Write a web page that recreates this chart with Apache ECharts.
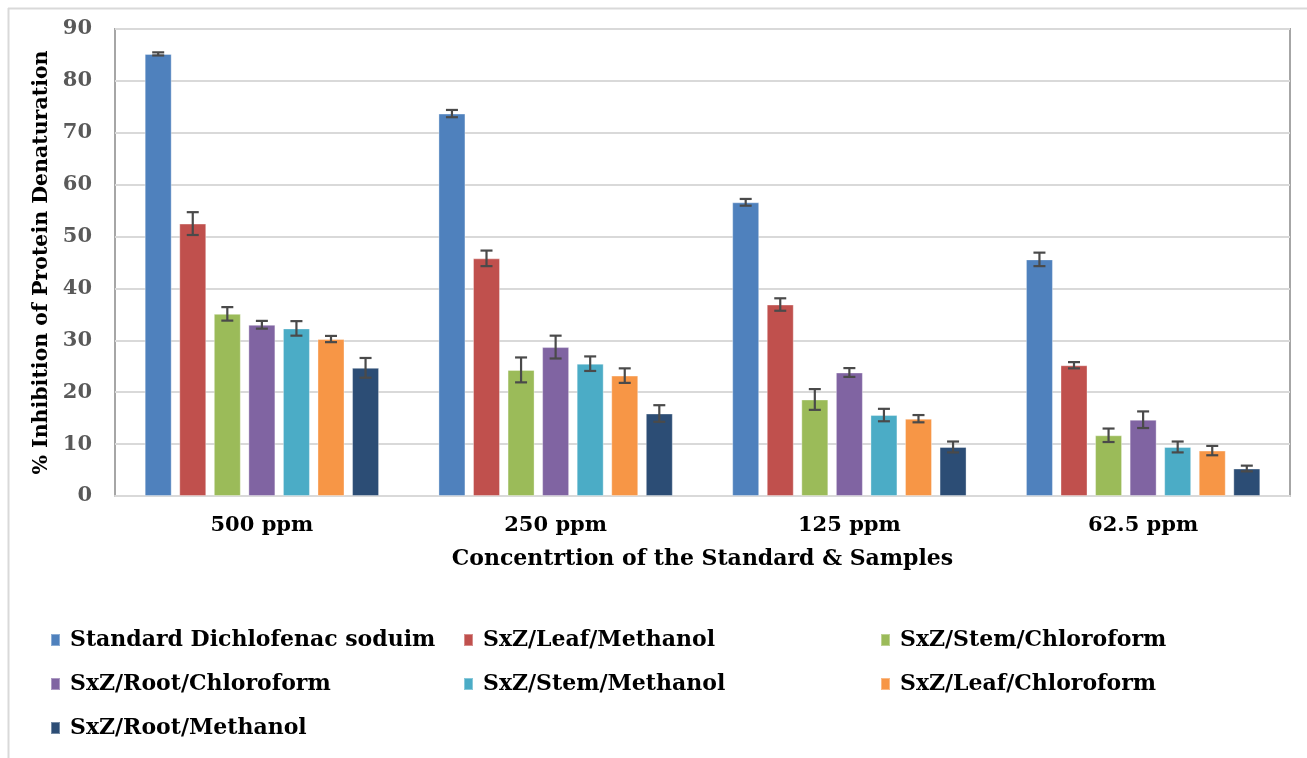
<!DOCTYPE html>
<html>
<head>
<meta charset="utf-8">
<script src="https://cdn.jsdelivr.net/npm/echarts@6/dist/echarts.min.js"></script>
<style>html,body{margin:0;padding:0;background:#fff;}#c{width:1307px;height:758px;}</style>
</head>
<body>
<div id="c"></div>
<script>
const categories = ['500 ppm', '250 ppm', '125 ppm', '62.5 ppm'];
const seriesNames = ['Standard Dichlofenac soduim', 'SxZ/Leaf/Methanol', 'SxZ/Stem/Chloroform', 'SxZ/Root/Chloroform', 'SxZ/Stem/Methanol', 'SxZ/Leaf/Chloroform', 'SxZ/Root/Methanol'];
const colors = ['#4F81BD', '#C0504D', '#9BBB59', '#8064A2', '#4BACC6', '#F79646', '#2C4D75'];
const standardDichlofenac = [85.2, 73.7, 56.6, 45.6];
const leafMethanol = [52.5, 45.8, 36.9, 25.2];
const stemChloroform = [35.1, 24.3, 18.6, 11.7];
const rootChloroform = [33.0, 28.7, 23.8, 14.7];
const stemMethanol = [32.3, 25.5, 15.6, 9.45];
const leafChloroform = [30.25, 23.2, 14.9, 8.75];
const rootMethanol = [24.7, 15.9, 9.45, 5.3];
const errStandard = [0.3, 0.7, 0.65, 1.3];
const errLeafMethanol = [2.2, 1.5, 1.2, 0.6];
const errStemChloroform = [1.3, 2.4, 2.0, 1.3];
const errRootChloroform = [0.75, 2.2, 0.85, 1.6];
const errStemMethanol = [1.4, 1.4, 1.2, 1.05];
const errLeafChloroform = [0.6, 1.4, 0.7, 0.9];
const errRootMethanol = [1.9, 1.6, 1.05, 0.55];
const yTicks = [0, 10, 20, 30, 40, 50, 60, 70, 80, 90];

const values = [standardDichlofenac, leafMethanol, stemChloroform, rootChloroform, stemMethanol, leafChloroform, rootMethanol];
const errors = [errStandard, errLeafMethanol, errStemChloroform, errRootChloroform, errStemMethanol, errLeafChloroform, errRootMethanol];

const BAR_W = 27;
const GAP_RATIO = 0.28;
const FONT = '"DejaVu Serif", "Liberation Serif", serif';

const chart = echarts.init(document.getElementById('c'), null, {renderer: 'canvas'});

const series = [];
values.forEach((vals, i) => {
  series.push({
    name: seriesNames[i],
    type: 'bar',
    data: vals,
    barWidth: BAR_W,
    barGap: (GAP_RATIO * 100) + '%',
    itemStyle: {color: colors[i], borderColor: 'rgba(255,255,255,0.35)', borderWidth: 1},
    z: 2
  });
});
values.forEach((vals, i) => {
  const n = values.length;
  const offset = (i - (n - 1) / 2) * BAR_W * (1 + GAP_RATIO);
  series.push({
    name: seriesNames[i],
    type: 'custom',
    z: 5,
    silent: true,
    data: vals.map((v, k) => [k, v, errors[i][k]]),
    renderItem: function (params, api) {
      const xi = api.value(0);
      const v = api.value(1);
      const e = api.value(2);
      const hi = api.coord([xi, v + e]);
      const lo = api.coord([xi, v - e]);
      const x = hi[0] + offset;
      const cap = 6;
      const style = {stroke: '#4a4a4a', lineWidth: 2.2};
      return {
        type: 'group',
        children: [
          {type: 'line', shape: {x1: x, y1: hi[1], x2: x, y2: lo[1]}, style: style},
          {type: 'line', shape: {x1: x - cap, y1: hi[1], x2: x + cap, y2: hi[1]}, style: style},
          {type: 'line', shape: {x1: x - cap, y1: lo[1], x2: x + cap, y2: lo[1]}, style: style}
        ]
      };
    },
    encode: {x: 0, y: 1}
  });
});

const legendItem = {fontFamily: FONT, fontWeight: 'bold', fontSize: 22, color: '#000', padding: [0, 0, 0, 5]};
function mkLegend(left, names) {
  return {
    orient: 'vertical', left: left, top: 624, itemGap: 22,
    itemWidth: 9, itemHeight: 12, icon: 'rect',
    textStyle: legendItem,
    data: names
  };
}

chart.setOption({
  animation: false,
  backgroundColor: '#fff',
  color: colors,
  graphic: [
    {type: 'line', shape: {x1: 8, y1: 8.5, x2: 1307, y2: 8.5}, style: {stroke: '#D9D9D9', lineWidth: 2}},
    {type: 'line', shape: {x1: 8.5, y1: 8, x2: 8.5, y2: 758}, style: {stroke: '#D9D9D9', lineWidth: 2}}
  ],
  grid: {left: 115, right: 17, top: 29, bottom: 262, show: true, borderColor: '#A6A6A6', borderWidth: 2, containLabel: false},
  legend: [
    mkLegend(45, [seriesNames[0], seriesNames[3], seriesNames[6]]),
    mkLegend(458, [seriesNames[1], seriesNames[4]]),
    mkLegend(875, [seriesNames[2], seriesNames[5]])
  ],
  xAxis: {
    type: 'category',
    data: categories,
    axisTick: {show: false},
    axisLine: {show: true, lineStyle: {color: '#D9D9D9', width: 2}},
    axisLabel: {fontFamily: FONT, fontWeight: 'bold', fontSize: 21, color: '#000', margin: 19},
    name: 'Concentrtion of the Standard & Samples',
    nameLocation: 'middle',
    nameGap: 52,
    nameTextStyle: {fontFamily: FONT, fontWeight: 'bold', fontSize: 22, color: '#000'}
  },
  yAxis: {
    type: 'value',
    min: yTicks[0],
    max: yTicks[yTicks.length - 1],
    interval: yTicks[1] - yTicks[0],
    axisLine: {show: false},
    axisTick: {show: false},
    splitLine: {lineStyle: {color: '#D9D9D9', width: 2}},
    axisLabel: {fontFamily: FONT, fontWeight: 'bold', fontSize: 21, color: '#595959', margin: 23},
    name: '% Inhibition of Protein Denaturation',
    nameLocation: 'middle',
    nameGap: 62,
    nameRotate: 90,
    nameTextStyle: {fontFamily: FONT, fontWeight: 'bold', fontSize: 20.5, color: '#000'}
  },
  series: series
});
</script>
</body>
</html>
